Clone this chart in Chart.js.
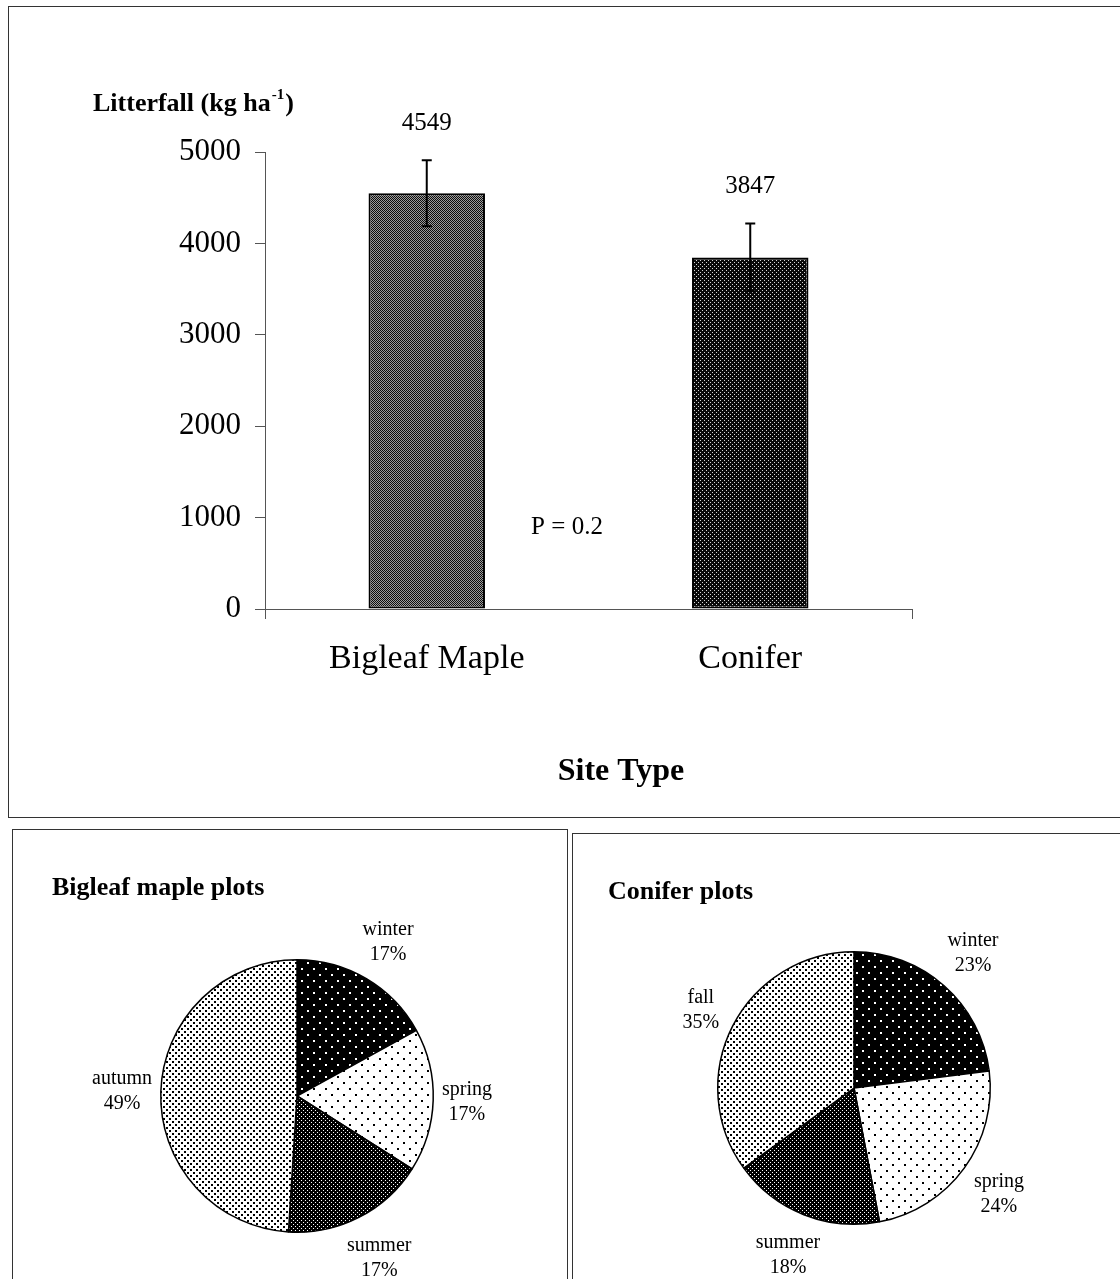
<!DOCTYPE html>
<html>
<head>
<meta charset="utf-8">
<script src="https://cdn.jsdelivr.net/npm/chart.js@4.4.0/dist/chart.umd.min.js"></script>
<style>
  body { margin: 0; background: #fff; width: 1120px; height: 1279px; position: relative; overflow: hidden; }
  .painel { position: absolute; border: 1px solid #333; box-sizing: border-box; }
  canvas { position: absolute; }
</style>
</head>
<body>
<div class="painel" style="left:8px;top:6px;width:1130px;height:812px"></div>
<div class="painel" style="left:12px;top:829px;width:556px;height:470px"></div>
<div class="painel" style="left:572px;top:833px;width:570px;height:470px"></div>

<canvas id="barras" width="1120" height="820" style="left:0;top:0"></canvas>
<canvas id="pizza1" width="560" height="449" style="left:7px;top:830px"></canvas>
<canvas id="pizza2" width="546" height="445" style="left:574px;top:834px"></canvas>

<script>
// dados
const sitios = ['Bigleaf Maple', 'Conifer']
const litterfall = [4549, 3847]
const erro = [360, 370]
const ticksY = [0, 1000, 2000, 3000, 4000, 5000]

const estacoesMaple = ['winter', 'spring', 'summer', 'autumn']
const pctMaple = [17, 17, 17, 49]
const estacoesConifer = ['winter', 'spring', 'summer', 'fall']
const pctConifer = [23, 24, 18, 35]

const serif = '"Liberation Serif", "Times New Roman", serif'

// padroes pontilhados
function pontilhado(fundo, ponto, passo, tam) {
    const c = document.createElement('canvas')
    c.width = passo * 2
    c.height = passo * 2
    const g = c.getContext('2d')
    g.fillStyle = fundo
    g.fillRect(0, 0, c.width, c.height)
    g.fillStyle = ponto
    g.fillRect(0, 0, tam, tam)
    g.fillRect(passo, passo, tam, tam)
    return g.createPattern(c, 'repeat')
}

function xadrez(a, b) {
    const c = document.createElement('canvas')
    c.width = 2
    c.height = 2
    const g = c.getContext('2d')
    g.fillStyle = b
    g.fillRect(0, 0, 2, 2)
    g.fillStyle = a
    g.fillRect(0, 0, 1, 1)
    g.fillRect(1, 1, 1, 1)
    return g.createPattern(c, 'repeat')
}

const padraoMaple = xadrez('#0c0c0c', '#9c9c9c')
const padraoConifer = pontilhado('#0a0a0a', '#d8d8d8', 2, 1)

const cores = {
    winter: pontilhado('#000', '#fff', 6, 2),
    spring: pontilhado('#fff', '#000', 6, 2),
    summer: pontilhado('#000', '#fff', 2, 1),
    autumn: pontilhado('#fff', '#000', 3, 2),
    fall: pontilhado('#fff', '#000', 3, 2)
}

// barras: erro, valores e textos
const extrasBarras = {
    id: 'extrasBarras',
    afterDatasetsDraw(chart) {
        const ctx = chart.ctx
        const y = chart.scales.y
        const meta = chart.getDatasetMeta(0)
        ctx.save()
        ctx.strokeStyle = '#000'
        ctx.lineWidth = 2
        ctx.fillStyle = '#000'
        meta.data.forEach((bar, i) => {
            const topo = y.getPixelForValue(litterfall[i] + erro[i])
            const baixo = y.getPixelForValue(litterfall[i] - erro[i])
            ctx.beginPath()
            ctx.moveTo(bar.x, topo)
            ctx.lineTo(bar.x, baixo)
            ctx.moveTo(bar.x - 5, topo)
            ctx.lineTo(bar.x + 5, topo)
            ctx.moveTo(bar.x - 5, baixo)
            ctx.lineTo(bar.x + 5, baixo)
            ctx.stroke()
            ctx.font = '25px ' + serif
            ctx.textAlign = 'center'
            ctx.textBaseline = 'middle'
            ctx.fillText(String(litterfall[i]), bar.x, topo - 37)
        })

        ctx.font = '25px ' + serif
        ctx.textAlign = 'center'
        ctx.textBaseline = 'middle'
        ctx.fillText('P = 0.2', 567, 527)

        ctx.font = 'bold 32px ' + serif
        ctx.fillText('Site Type', 621, 772)

        // titulo do eixo y, com expoente
        ctx.textAlign = 'left'
        ctx.textBaseline = 'alphabetic'
        ctx.font = 'bold 26px ' + serif
        let x = 93
        const base = 111
        const t1 = 'Litterfall (kg ha'
        ctx.fillText(t1, x, base)
        x += ctx.measureText(t1).width
        ctx.font = 'bold 15px ' + serif
        ctx.fillText('-1', x + 1, base - 12)
        x += ctx.measureText('-1').width + 2
        ctx.font = 'bold 26px ' + serif
        ctx.fillText(')', x, base)
        ctx.restore()
    }
}

new Chart(document.getElementById('barras'), {
    type: 'bar',
    data: {
        labels: sitios,
        datasets: [{
            data: litterfall,
            backgroundColor: [padraoMaple, padraoConifer],
            borderColor: '#000',
            borderWidth: 2,
            borderSkipped: false,
            barPercentage: 0.36,
            categoryPercentage: 1
        }]
    },
    options: {
        responsive: false,
        animation: false,
        layout: { padding: { top: 152, right: 208, bottom: 0, left: 0 } },
        plugins: { legend: { display: false }, tooltip: { enabled: false } },
        scales: {
            y: {
                min: 0,
                max: 5000,
                afterBuildTicks: (scale) => { scale.ticks = ticksY.map(v => ({ value: v })) },
                afterFit: (scale) => { scale.width = 265 },
                ticks: {
                    color: '#000',
                    font: { family: serif, size: 31 },
                    padding: 14,
                    callback: (v) => String(v)
                },
                grid: { drawOnChartArea: false, tickLength: 10, color: '#555' },
                border: { color: '#555', width: 1 }
            },
            x: {
                afterFit: (scale) => { scale.height = 211 },
                ticks: { color: '#000', font: { family: serif, size: 34 }, padding: 20 },
                grid: {
                    offset: true,
                    drawOnChartArea: false,
                    tickLength: 10,
                    color: (c) => c.index === 1 ? 'rgba(0,0,0,0)' : '#555'
                },
                border: { color: '#555', width: 1 }
            }
        }
    },
    plugins: [extrasBarras]
})

// pizzas
function rotulosPizza(titulo, xTitulo) {
    return {
        id: 'rotulos',
        afterDatasetsDraw(chart) {
            const ctx = chart.ctx
            const nomes = chart.data.labels
            const vals = chart.data.datasets[0].data
            ctx.save()
            ctx.fillStyle = '#000'
            ctx.font = 'bold 26px ' + serif
            ctx.textAlign = 'left'
            ctx.textBaseline = 'middle'
            ctx.fillText(titulo, xTitulo, 58)

            ctx.font = '20px ' + serif
            ctx.textAlign = 'center'
            chart.getDatasetMeta(0).data.forEach((arc, i) => {
                const meio = (arc.startAngle + arc.endAngle) / 2
                const c = Math.cos(meio)
                const s = Math.sin(meio)
                const larg = Math.max(ctx.measureText(nomes[i]).width, ctx.measureText(vals[i] + '%').width)
                const d = Math.abs(c) * larg / 2 + Math.abs(s) * 25 + 8
                const px = arc.x + c * (arc.outerRadius + d)
                const py = arc.y + s * (arc.outerRadius + d)
                ctx.fillText(nomes[i], px, py - 12)
                ctx.fillText(vals[i] + '%', px, py + 13)
            })
            ctx.restore()
        }
    }
}

function pizza(id, nomes, valores, padding, titulo, xTitulo) {
    new Chart(document.getElementById(id), {
        type: 'pie',
        data: {
            labels: nomes,
            datasets: [{
                data: valores,
                backgroundColor: nomes.map(n => cores[n]),
                borderColor: '#000',
                borderWidth: 1.5
            }]
        },
        options: {
            responsive: false,
            animation: false,
            layout: { padding: padding },
            plugins: { legend: { display: false }, tooltip: { enabled: false } }
        },
        plugins: [rotulosPizza(titulo, xTitulo)]
    })
}

pizza('pizza1', estacoesMaple, pctMaple, { left: 153, right: 133, top: 129, bottom: 46 }, 'Bigleaf maple plots', 45)
pizza('pizza2', estacoesConifer, pctConifer, { left: 143, right: 129, top: 117, bottom: 54 }, 'Conifer plots', 34)
</script>
</body>
</html>
